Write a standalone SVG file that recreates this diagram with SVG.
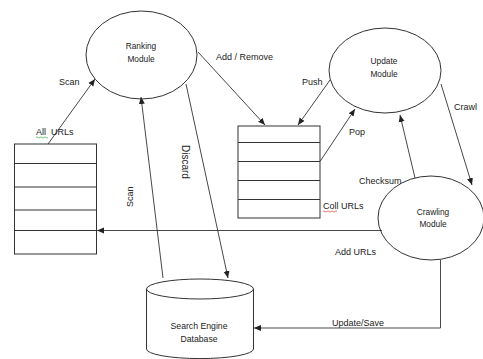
<svg xmlns="http://www.w3.org/2000/svg" width="483" height="359" viewBox="0 0 483 359">
  <style>
    .shape { fill: none; stroke: #333; stroke-width: 1; }
    .row { stroke: #333; stroke-width: 1; }
    .edge { fill: none; stroke: #333; stroke-width: 0.9; }
    .lbl { font-family: "Liberation Sans", Arial, sans-serif; font-size: 9px; fill: #222; }
    .name { font-family: "Liberation Sans", Arial, sans-serif; font-size: 8.3px; fill: #222; text-anchor: middle; }
    .db { font-size: 8.7px; }
  </style>
  <defs>
    <marker id="arrow" markerUnits="userSpaceOnUse" markerWidth="8" markerHeight="8" refX="7" refY="3.5" orient="auto">
      <path d="M0,0.5 L7,3.5 L0,6.5 Z" fill="#222"/>
    </marker>
  </defs>
  <rect width="483" height="359" fill="#fff"/>

  <!-- Modules -->
  <g id="ranking-module">
    <ellipse class="shape" cx="141.5" cy="55" rx="55.5" ry="44"/>
    <text class="name" x="141" y="49">Ranking</text>
    <text class="name" x="141" y="62">Module</text>
  </g>
  <g id="update-module">
    <ellipse class="shape" cx="385" cy="70.5" rx="56" ry="42.5"/>
    <text class="name" x="384" y="64">Update</text>
    <text class="name" x="384" y="77">Module</text>
  </g>
  <g id="crawling-module">
    <ellipse class="shape" cx="431" cy="218" rx="53" ry="42"/>
    <text class="name" x="433" y="215">Crawling</text>
    <text class="name" x="433" y="227">Module</text>
  </g>

  <!-- URL queues -->
  <g id="all-urls">
    <rect class="shape" x="14.5" y="144" width="82" height="110"/>
    <line class="row" x1="14.5" y1="163.5" x2="96.5" y2="163.5"/>
    <line class="row" x1="14.5" y1="187" x2="96.5" y2="187"/>
    <line class="row" x1="14.5" y1="210" x2="96.5" y2="210"/>
    <line class="row" x1="14.5" y1="230.5" x2="96.5" y2="230.5"/>
    <text class="lbl" x="36" y="135" style="white-space:pre">All  URLs</text>
    <path d="M36,137.5 q1,-1.2 2,0 t2,0 t2,0 t2,0 t2,0 t2,0" fill="none" stroke="#3a3" stroke-width="0.7"/>
  </g>
  <g id="coll-urls">
    <rect class="shape" x="238" y="126" width="82" height="92"/>
    <line class="row" x1="238" y1="142.5" x2="320" y2="142.5"/>
    <line class="row" x1="238" y1="161.5" x2="320" y2="161.5"/>
    <line class="row" x1="238" y1="180.5" x2="320" y2="180.5"/>
    <line class="row" x1="238" y1="199.5" x2="320" y2="199.5"/>
    <text class="lbl" x="323" y="209">Coll URLs</text>
    <path d="M323,211.5 q1,-1.2 2,0 t2,0 t2,0 t2,0 t2,0 t2,0 t2,0" fill="none" stroke="#d33" stroke-width="0.7"/>
  </g>

  <!-- Database -->
  <g id="search-engine-database">
    <path class="shape" d="M146.5,289 L146.5,349 A53,9.5 0 0 0 253.5,349 L253.5,289"/>
    <ellipse class="shape" cx="200" cy="289" rx="53.5" ry="10"/>
    <text class="name db" x="199" y="329">Search Engine</text>
    <text class="name db" x="199" y="342">Database</text>
  </g>

  <!-- Connectors -->
  <g id="connectors">
    <line class="edge" x1="48" y1="144" x2="95" y2="79" marker-end="url(#arrow)"/>
    <line class="edge" x1="163" y1="278" x2="141" y2="97" marker-end="url(#arrow)"/>
    <line class="edge" x1="186" y1="84" x2="228" y2="278" marker-end="url(#arrow)"/>
    <line class="edge" x1="198" y1="52" x2="265" y2="125" marker-end="url(#arrow)"/>
    <line class="edge" x1="330" y1="80" x2="298" y2="125" marker-end="url(#arrow)"/>
    <line class="edge" x1="320" y1="161.5" x2="355" y2="109" marker-end="url(#arrow)"/>
    <line class="edge" x1="441" y1="84" x2="472" y2="185" marker-end="url(#arrow)"/>
    <line class="edge" x1="415" y1="178" x2="400" y2="115" marker-end="url(#arrow)"/>
    <line class="edge" x1="382" y1="230.5" x2="97" y2="230.5" marker-end="url(#arrow)"/>
    <polyline class="edge" points="440.5,260 440.5,328 254,328" marker-end="url(#arrow)"/>

    <text class="lbl" x="59" y="85">Scan</text>
    <text class="lbl" x="216" y="60">Add / Remove</text>
    <text class="lbl" style="font-size:10px" transform="translate(181.5,145) rotate(90)">Discard</text>
    <text class="lbl" transform="translate(133,207) rotate(-90)">Scan</text>
    <text class="lbl" x="302" y="85">Push</text>
    <text class="lbl" x="349" y="135">Pop</text>
    <text class="lbl" x="454" y="110">Crawl</text>
    <text class="lbl" x="359" y="184">Checksum</text>
    <text class="lbl" x="335" y="255">Add URLs</text>
    <text class="lbl" x="332" y="326">Update/Save</text>
  </g>
</svg>
